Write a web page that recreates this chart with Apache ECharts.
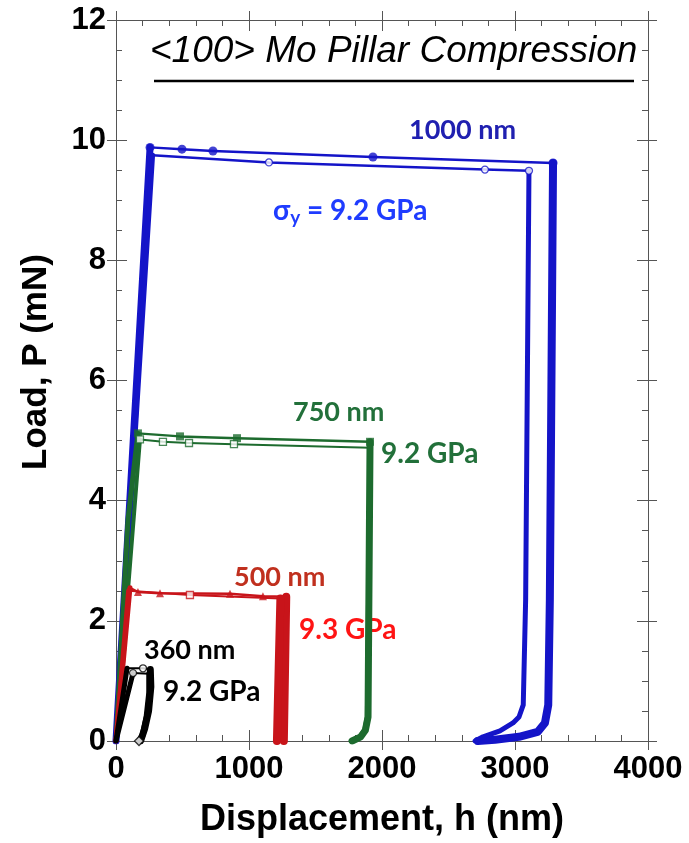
<!DOCTYPE html>
<html>
<head>
<meta charset="utf-8">
<script src="https://cdn.jsdelivr.net/npm/echarts@6/dist/echarts.min.js"></script>
<style>
  html, body { margin: 0; padding: 0; background: #fff; }
  #chart { width: 689px; height: 843px; }
</style>
</head>
<body>
<div id="chart"></div>
<script>
// Load–displacement records of <100> Mo pillars, points are [h (nm), P (mN)].
// Each test is split into its loading, plateau and unloading legs.

// 1000 nm pillar, test A (filled circles)
const d1000aLoad    = [[0, 0], [256, 9.88]];
const d1000aPlateau = [[256, 9.88], [496, 9.85], [729, 9.82], [1932, 9.72], [3286, 9.62]];
const d1000aUnload  = [[3286, 9.62], [3262, 2.35], [3250, 0.6], [3225, 0.3], [3170, 0.15], [3030, 0.07], [2850, 0.02], [2720, 0]];
const d1000aMarks   = [[256, 9.88], [496, 9.85], [729, 9.82], [1932, 9.72], [3286, 9.62]];
// 1000 nm pillar, test B (open circles)
const d1000bLoad    = [[0, 0], [275, 9.75]];
const d1000bPlateau = [[275, 9.75], [1150, 9.63], [2774, 9.51], [3105, 9.49]];
const d1000bUnload  = [[3105, 9.49], [3080, 2.35], [3062, 0.6], [3030, 0.4], [2985, 0.3], [2887, 0.17], [2760, 0.07], [2700, 0]];
const d1000bMarks   = [[1150, 9.63], [2774, 9.51], [3105, 9.49]];

// 750 nm pillar, test A (filled squares)
const d750aLoad    = [[0, 0], [90, 3.68], [165, 5.12]];
const d750aPlateau = [[165, 5.12], [481, 5.07], [910, 5.04], [1910, 4.98]];
const d750aUnload  = [[1910, 4.98], [1895, 0.4], [1875, 0.18], [1840, 0.07], [1775, 0]];
const d750aMarks   = [[165, 5.12], [481, 5.07], [910, 5.04], [1910, 4.98]];
// 750 nm pillar, test B (open squares)
const d750bLoad    = [[0, 0], [180, 5.02]];
const d750bPlateau = [[180, 5.02], [353, 4.98], [549, 4.96], [887, 4.94], [1910, 4.88]];
const d750bUnload  = [[1910, 4.88], [1890, 0.4], [1870, 0.18], [1835, 0.07], [1770, 0]];
const d750bMarks   = [[180, 5.02], [353, 4.98], [549, 4.96], [887, 4.94]];

// 500 nm pillar, test A (filled triangles)
const d500aLoad    = [[0, 0], [105, 2.55]];
const d500aPlateau = [[105, 2.55], [165, 2.48], [331, 2.46], [857, 2.45], [1105, 2.41], [1280, 2.40]];
const d500aUnload  = [[1280, 2.40], [1271, 1.2], [1262, 0]];
const d500aMarks   = [[165, 2.48], [331, 2.46], [857, 2.45], [1105, 2.41]];
// 500 nm pillar, test B (open squares)
const d500bLoad    = [[0, 0], [95, 2.5]];
const d500bPlateau = [[95, 2.5], [556, 2.43], [1236, 2.37]];
const d500bUnload  = [[1236, 2.37], [1223, 1.2], [1210, 0]];
const d500bMarks   = [[556, 2.43]];

// 360 nm pillar, test A
const d360aLoad    = [[0, 0], [83, 1.21]];
const d360aPlateau = [[83, 1.21], [203, 1.21], [258, 1.19]];
const d360aUnload  = [[258, 1.19], [262, 0.9], [245, 0.5], [215, 0.2], [185, 0]];
const d360aMarks   = [[203, 1.21]];
// 360 nm pillar, test B (open circles)
const d360bLoad    = [[0, 0], [128, 1.13]];
const d360bPlateau = [[128, 1.13], [250, 1.12]];
const d360bUnload  = [[250, 1.12], [250, 0.8], [230, 0.4], [200, 0.1], [173, 0]];
const d360bMarks   = [[128, 1.13]];
const d360bEnd     = [[173, 0]];

// Axis ranges and ticks
const xRange = [0, 4000], xStep = 1000, xMinorSplit = 5;
const yRange = [0, 12],   yStep = 2,    yMinorSplit = 4;

const axisColor = '#555';
const labelFont = 'Liberation Sans, Arial, sans-serif';
const noteFont = 'Lato, "Open Sans", sans-serif';

const C_BLUE = '#1414c8', C_GREEN = '#1d6b2e', C_RED = '#c8141a', C_BLACK = '#000';

function leg(data, color, width, z) {
  return {
    type: 'line', xAxisIndex: 0, yAxisIndex: 0, data, symbol: 'none',
    lineStyle: { color, width, cap: 'round', join: 'round' },
    z: z || 2, silent: true, animation: false
  };
}
function marks(data, color, symbol, size, open) {
  return {
    type: 'scatter', xAxisIndex: 0, yAxisIndex: 0, data, symbol, symbolSize: size,
    itemStyle: open ? { color: '#fff', borderColor: color, borderWidth: 1.3 } : { color },
    z: 4, silent: true, animation: false
  };
}
function test(load, plateau, unload, color, loadW, plateauW, unloadW) {
  return [leg(load, color, loadW, 3), leg(plateau, color, plateauW, 2), leg(unload, color, unloadW, 3)];
}

const series = [].concat(
  test(d1000aLoad, d1000aPlateau, d1000aUnload, C_BLUE, 7, 2.5, 8),
  test(d1000bLoad, d1000bPlateau, d1000bUnload, C_BLUE, 5, 2.5, 5),
  [marks(d1000aMarks, C_BLUE, 'circle', 9, false), marks(d1000bMarks, C_BLUE, 'circle', 7, true)],
  test(d750aLoad, d750aPlateau, d750aUnload, C_GREEN, 5, 2.5, 7),
  test(d750bLoad, d750bPlateau, d750bUnload, C_GREEN, 4, 2, 5),
  [marks(d750aMarks, C_GREEN, 'rect', 8, false), marks(d750bMarks, C_GREEN, 'rect', 7, true)],
  test(d500aLoad, d500aPlateau, d500aUnload, C_RED, 5, 2.5, 8),
  test(d500bLoad, d500bPlateau, d500bUnload, C_RED, 5, 2, 8),
  [marks(d500aMarks, C_RED, 'triangle', 8, false), marks(d500bMarks, C_RED, 'rect', 7, true)],
  test(d360aLoad, d360aPlateau, d360aUnload, C_BLACK, 5, 2, 7),
  test(d360bLoad, d360bPlateau, d360bUnload, C_BLACK, 5, 2, 6),
  [marks(d360aMarks, C_BLACK, 'circle', 7, true), marks(d360bMarks, C_BLACK, 'circle', 7, true),
   marks(d360bEnd, C_BLACK, 'diamond', 9, true)]
);

// Two coincident grids: the first carries inward ticks, the second outward
// major ticks so that major ticks cross the frame.
const gridBox = { left: 116, right: 41, top: 20, bottom: 102 };
const lineStyle = { color: axisColor, width: 1 };
const tickLabel = { color: '#000', fontFamily: labelFont, fontWeight: 'bold', fontSize: 31,
                    formatter: v => String(v) };

function xAx(gridIndex, position, inside, withLabels) {
  return {
    type: 'value', gridIndex, position, min: xRange[0], max: xRange[1], interval: xStep,
    axisLine: { show: true, onZero: false, lineStyle },
    axisTick: { show: true, inside, length: inside ? 11 : 9, lineStyle },
    minorTick: { show: inside, splitNumber: xMinorSplit, length: 6, lineStyle },
    splitLine: { show: false },
    axisLabel: withLabels ? Object.assign({ show: true, margin: 13 }, tickLabel) : { show: false },
    name: withLabels ? 'Displacement, h (nm)' : '',
    nameLocation: 'middle', nameGap: 61,
    nameTextStyle: { color: '#000', fontFamily: labelFont, fontWeight: 'bold', fontSize: 36 }
  };
}
function yAx(gridIndex, position, inside, withLabels) {
  return {
    type: 'value', gridIndex, position, min: yRange[0], max: yRange[1], interval: yStep,
    axisLine: { show: true, onZero: false, lineStyle },
    axisTick: { show: true, inside, length: inside ? 11 : 9, lineStyle },
    minorTick: { show: inside, splitNumber: yMinorSplit, length: 6, lineStyle },
    splitLine: { show: false },
    axisLabel: withLabels ? Object.assign({ show: true, margin: 10 }, tickLabel) : { show: false }
  };
}

function note(text, x, y, color, size) {
  return {
    type: 'text', x, y, silent: true,
    style: { text, fill: color, font: `bold ${size}px ${noteFont}`, align: 'left', verticalAlign: 'middle' }
  };
}

const chart = echarts.init(document.getElementById('chart'), null, { renderer: 'canvas' });
chart.setOption({
  animation: false,
  backgroundColor: '#fff',
  grid: [Object.assign({}, gridBox), Object.assign({}, gridBox)],
  xAxis: [xAx(0, 'bottom', true, true), xAx(0, 'top', true, false),
          xAx(1, 'bottom', false, false), xAx(1, 'top', false, false)],
  yAxis: [yAx(0, 'left', true, true), yAx(0, 'right', true, false),
          yAx(1, 'left', false, false), yAx(1, 'right', false, false)],
  series,
  graphic: [
    {
      // y-axis title
      type: 'text', x: 36, y: 362, rotation: Math.PI / 2, silent: true,
      style: { text: 'Load, P (mN)', fill: '#000', font: `bold 35px ${labelFont}`,
               align: 'center', verticalAlign: 'middle' }
    },
    {
      type: 'text', left: 150, top: 33, silent: true,
      style: { text: '<100> Mo Pillar Compression', fill: '#000',
               font: `italic 37px ${labelFont}` }
    },
    {
      type: 'line', silent: true,
      shape: { x1: 154, y1: 81, x2: 634, y2: 81 },
      style: { stroke: '#000', lineWidth: 2.5 }
    },
    note('1000 nm', 409, 130, '#2020b0', 27),
    {
      type: 'text', x: 273, y: 211, silent: true,
      style: {
        text: '{a|σ}{b|y}{a| = 9.2 GPa}', align: 'left', verticalAlign: 'middle',
        rich: {
          a: { fill: '#1f3cff', font: `bold 28px ${noteFont}`, lineHeight: 32 },
          b: { fill: '#1f3cff', font: `bold 19px ${noteFont}`, lineHeight: 19, verticalAlign: 'bottom' }
        }
      }
    },
    note('750 nm', 293, 412, '#22703a', 27),
    note('9.2 GPa', 381, 454, '#22703a', 28),
    note('500 nm', 234, 577, '#c0301e', 27),
    note('9.3 GPa', 299, 630, '#ff1414', 28),
    note('360 nm', 144, 650, '#000', 27),
    note('9.2 GPa', 163, 692, '#000', 28)
  ]
});
</script>
</body>
</html>
